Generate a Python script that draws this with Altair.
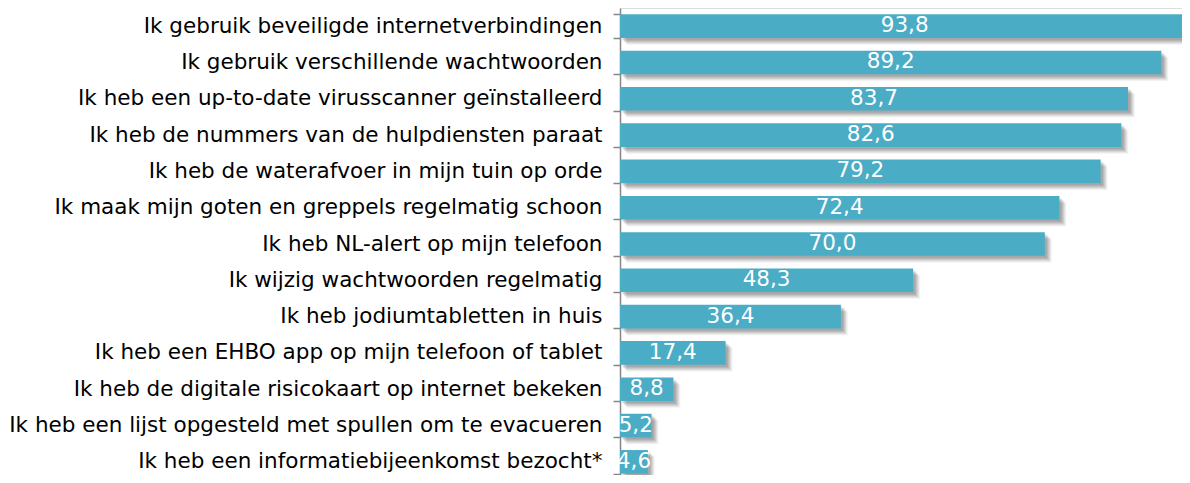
import altair as alt
import pandas as pd

categories = [
    "Ik gebruik beveiligde internetverbindingen",
    "Ik gebruik verschillende wachtwoorden",
    "Ik heb een up-to-date virusscanner geïnstalleerd",
    "Ik heb de nummers van de hulpdiensten paraat",
    "Ik heb de waterafvoer in mijn tuin op orde",
    "Ik maak mijn goten en greppels regelmatig schoon",
    "Ik heb NL-alert op mijn telefoon",
    "Ik wijzig wachtwoorden regelmatig",
    "Ik heb jodiumtabletten in huis",
    "Ik heb een EHBO app op mijn telefoon of tablet",
    "Ik heb de digitale risicokaart op internet bekeken",
    "Ik heb een lijst opgesteld met spullen om te evacueren",
    "Ik heb een informatiebijeenkomst bezocht*",
]
values = [93.8, 89.2, 83.7, 82.6, 79.2, 72.4, 70.0, 48.3, 36.4, 17.4, 8.8, 5.2, 4.6]

df = pd.DataFrame({"cat": categories, "value": values})

FONT = "DejaVu Sans"
BAR = "#4BACC6"

# plot area is 562 px wide; 93.8 units map to ~570 px (bar runs to window edge)
x_scale = alt.Scale(domain=[0, 92.6], nice=False, zero=True)
x_enc = alt.X("value:Q", scale=x_scale, axis=None)

y_enc = alt.Y(
    "cat:N",
    sort=categories,
    scale=alt.Scale(paddingInner=0.35, paddingOuter=0.175, range=[0, 472]),
    axis=alt.Axis(
        title=None,
        domainColor="#868686",
        tickColor="#868686",
        tickSize=7,
        tickWidth=1.5,
        domainWidth=1.5,
        tickBand="extent",
        labelFont=FONT,
        labelFontSize=21.5,
        labelColor="#000000",
        labelPadding=11,
        labelLimit=800,
    ),
)

base = alt.Chart(df)

shadows = []
for off, op in [(2, 0.08), (3, 0.08), (4, 0.08), (5, 0.07), (6, 0.06), (7, 0.04)]:
    shadows.append(
        base.mark_bar(
            color="#000000",
            opacity=op,
            xOffset=off,
            x2Offset=off,
            yOffset=off,
        ).encode(x=x_enc, y=y_enc)
    )

bars = base.mark_bar(color=BAR).encode(x=x_enc, y=y_enc)

labels = (
    base.transform_calculate(
        mid="datum.value / 2",
        lab="replace(format(datum.value, '.1f'), '.', ',')",
    )
    .mark_text(color="white", font=FONT, fontSize=21.5, align="center", baseline="middle")
    .encode(
        x=alt.X("mid:Q", scale=x_scale, axis=None),
        y=y_enc,
        text="lab:N",
    )
)

chart = (
    alt.layer(*shadows, bars, labels)
    .properties(
        width=562,
        height=467,
        autosize=alt.AutoSizeParams(type="none"),
        padding={"left": 612, "top": 0, "right": 0, "bottom": 0},
    )
    .configure_view(stroke=None)
    .configure(background="white")
)

chart.save("out.html", embed_options={"renderer": "svg", "actions": False})
